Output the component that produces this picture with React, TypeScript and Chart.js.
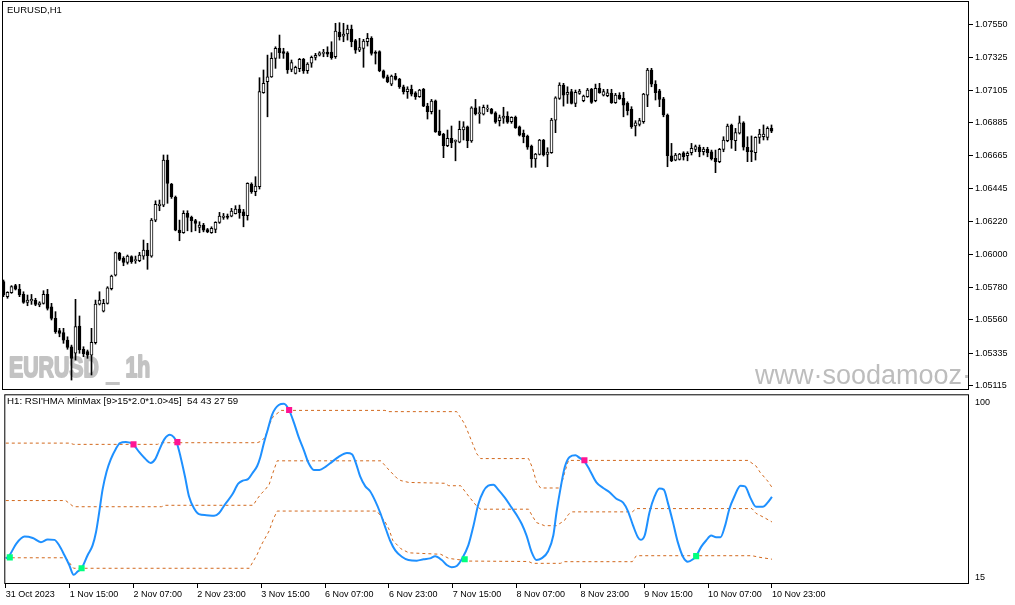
import { useEffect, useRef } from 'react'
import { Chart, registerables } from 'chart.js'

Chart.register(...registerables)

// EURUSD H1 candles, 31 Oct 2023 23:00 .. 10 Nov 2023 23:00 (one entry per bar)
const opens = [
  1.05817, 1.05716, 1.05743, 1.05790, 1.05767, 1.05731, 1.05678, 1.05687, 1.05691, 1.05660,
  1.05671, 1.05732, 1.05648, 1.05570, 1.05487, 1.05474, 1.05424, 1.05379, 1.05335, 1.05518,
  1.05362, 1.05346, 1.05323, 1.05406, 1.05666, 1.05619, 1.05671, 1.05769, 1.05861, 1.06008,
  1.05974, 1.05947, 1.05985, 1.05958, 1.05958, 1.05989, 1.06030, 1.05989, 1.06231, 1.06328,
  1.06332, 1.06635, 1.06474, 1.06384, 1.06164, 1.06146, 1.06276, 1.06249, 1.06227, 1.06182,
  1.06197, 1.06168, 1.06146, 1.06168, 1.06216, 1.06249, 1.06258, 1.06258, 1.06274, 1.06305,
  1.06287, 1.06260, 1.06474, 1.06422, 1.06456, 1.07088, 1.07162, 1.07195, 1.07319, 1.07387,
  1.07364, 1.07357, 1.07245, 1.07218, 1.07249, 1.07313, 1.07236, 1.07286, 1.07326, 1.07341,
  1.07353, 1.07362, 1.07362, 1.07330, 1.07496, 1.07469, 1.07483, 1.07516, 1.07438, 1.07375,
  1.07386, 1.07431, 1.07454, 1.07357, 1.07364, 1.07236, 1.07195, 1.07146, 1.07200, 1.07180,
  1.07128, 1.07095, 1.07111, 1.07088, 1.07061, 1.07111, 1.06998, 1.06960, 1.07034, 1.06830,
  1.06810, 1.06731, 1.06781, 1.06760, 1.06756, 1.06837, 1.06859, 1.06763, 1.06987, 1.06947,
  1.06943, 1.06978, 1.06978, 1.06953, 1.06900, 1.06916, 1.06931, 1.06893, 1.06922, 1.06859,
  1.06815, 1.06797, 1.06729, 1.06642, 1.06673, 1.06770, 1.06673, 1.06684, 1.06904, 1.07050,
  1.07140, 1.07077, 1.07095, 1.07016, 1.07084, 1.07034, 1.07061, 1.07113, 1.07034, 1.07117,
  1.07072, 1.07068, 1.07084, 1.07021, 1.07072, 1.07050, 1.07016, 1.06976, 1.06864, 1.06875,
  1.06893, 1.07072, 1.07241, 1.07146, 1.07101, 1.07047, 1.06938, 1.06664, 1.06635, 1.06640,
  1.06684, 1.06664, 1.06684, 1.06707, 1.06721, 1.06691, 1.06707, 1.06691, 1.06646, 1.06624,
  1.06707, 1.06765, 1.06871, 1.06765, 1.06815, 1.06886, 1.06721, 1.06698, 1.06684, 1.06788,
  1.06792, 1.06788, 1.06848,
]

const highs = [
  1.05828, 1.05749, 1.05790, 1.05799, 1.05799, 1.05749, 1.05727, 1.05731, 1.05705, 1.05682,
  1.05756, 1.05765, 1.05671, 1.05615, 1.05503, 1.05503, 1.05446, 1.05390, 1.05698, 1.05586,
  1.05379, 1.05357, 1.05503, 1.05693, 1.05749, 1.05698, 1.05783, 1.05861, 1.06016, 1.06014,
  1.05985, 1.05996, 1.05991, 1.05989, 1.06014, 1.06097, 1.06075, 1.06242, 1.06361, 1.06366,
  1.06669, 1.06669, 1.06478, 1.06393, 1.06231, 1.06294, 1.06294, 1.06258, 1.06236, 1.06220,
  1.06209, 1.06175, 1.06186, 1.06220, 1.06283, 1.06276, 1.06272, 1.06310, 1.06328, 1.06332,
  1.06303, 1.06482, 1.06482, 1.06523, 1.07189, 1.07241, 1.07341, 1.07357, 1.07397, 1.07476,
  1.07387, 1.07364, 1.07308, 1.07267, 1.07319, 1.07319, 1.07290, 1.07335, 1.07353, 1.07364,
  1.07380, 1.07397, 1.07431, 1.07555, 1.07559, 1.07555, 1.07543, 1.07543, 1.07447, 1.07454,
  1.07447, 1.07487, 1.07465, 1.07370, 1.07370, 1.07241, 1.07207, 1.07207, 1.07218, 1.07185,
  1.07139, 1.07128, 1.07139, 1.07095, 1.07111, 1.07117, 1.07017, 1.07043, 1.07039, 1.06971,
  1.06815, 1.06837, 1.06864, 1.06770, 1.06897, 1.06893, 1.06864, 1.06994, 1.07043, 1.06994,
  1.07005, 1.07005, 1.06983, 1.06960, 1.06938, 1.06990, 1.06960, 1.06926, 1.06931, 1.06864,
  1.06837, 1.06803, 1.06736, 1.06680, 1.06774, 1.06774, 1.06718, 1.06916, 1.07061, 1.07155,
  1.07151, 1.07128, 1.07111, 1.07106, 1.07111, 1.07072, 1.07117, 1.07117, 1.07146, 1.07151,
  1.07111, 1.07111, 1.07111, 1.07084, 1.07088, 1.07091, 1.07027, 1.06994, 1.06900, 1.06916,
  1.07084, 1.07252, 1.07252, 1.07169, 1.07111, 1.07057, 1.06945, 1.06747, 1.06680, 1.06680,
  1.06691, 1.06691, 1.06747, 1.06736, 1.06736, 1.06721, 1.06721, 1.06702, 1.06702, 1.06714,
  1.06792, 1.06877, 1.06877, 1.06848, 1.06931, 1.06893, 1.06792, 1.06797, 1.06792, 1.06842,
  1.06871, 1.06859, 1.06871,
]

const lows = [
  1.05716, 1.05705, 1.05738, 1.05761, 1.05716, 1.05671, 1.05655, 1.05664, 1.05655, 1.05648,
  1.05666, 1.05626, 1.05559, 1.05469, 1.05446, 1.05402, 1.05362, 1.05155, 1.05290, 1.05335,
  1.05312, 1.05301, 1.05189, 1.05397, 1.05660, 1.05613, 1.05666, 1.05761, 1.05855, 1.05958,
  1.05924, 1.05935, 1.05940, 1.05940, 1.05951, 1.05967, 1.05900, 1.05981, 1.06220, 1.06294,
  1.06321, 1.06344, 1.06377, 1.06159, 1.06092, 1.06142, 1.06159, 1.06152, 1.06159, 1.06146,
  1.06152, 1.06146, 1.06142, 1.06146, 1.06209, 1.06236, 1.06238, 1.06253, 1.06272, 1.06243,
  1.06186, 1.06231, 1.06411, 1.06395, 1.06440, 1.07084, 1.06926, 1.07191, 1.07252, 1.07319,
  1.07319, 1.07218, 1.07229, 1.07214, 1.07229, 1.07218, 1.07218, 1.07259, 1.07308, 1.07335,
  1.07330, 1.07330, 1.07313, 1.07319, 1.07442, 1.07431, 1.07442, 1.07397, 1.07353, 1.07364,
  1.07259, 1.07402, 1.07341, 1.07281, 1.07229, 1.07185, 1.07155, 1.07135, 1.07173, 1.07117,
  1.07079, 1.07050, 1.07066, 1.07043, 1.07057, 1.06994, 1.06911, 1.06945, 1.06821, 1.06799,
  1.06651, 1.06725, 1.06718, 1.06630, 1.06751, 1.06770, 1.06718, 1.06754, 1.06938, 1.06882,
  1.06938, 1.06960, 1.06945, 1.06882, 1.06864, 1.06882, 1.06882, 1.06882, 1.06848, 1.06797,
  1.06751, 1.06707, 1.06586, 1.06586, 1.06669, 1.06662, 1.06590, 1.06680, 1.06819, 1.07043,
  1.06998, 1.07016, 1.07012, 1.06994, 1.07077, 1.07027, 1.07057, 1.07016, 1.07027, 1.07084,
  1.07066, 1.07061, 1.07016, 1.07016, 1.07043, 1.06926, 1.06938, 1.06848, 1.06797, 1.06864,
  1.06882, 1.06994, 1.07128, 1.07039, 1.06994, 1.06926, 1.06590, 1.06624, 1.06630, 1.06635,
  1.06635, 1.06630, 1.06669, 1.06691, 1.06657, 1.06669, 1.06657, 1.06635, 1.06550, 1.06617,
  1.06691, 1.06758, 1.06714, 1.06698, 1.06810, 1.06702, 1.06624, 1.06624, 1.06635, 1.06747,
  1.06770, 1.06770, 1.06819,
]

const closes = [
  1.05727, 1.05745, 1.05783, 1.05767, 1.05727, 1.05678, 1.05693, 1.05698, 1.05664, 1.05675,
  1.05732, 1.05637, 1.05570, 1.05480, 1.05469, 1.05424, 1.05375, 1.05301, 1.05514, 1.05357,
  1.05330, 1.05323, 1.05409, 1.05666, 1.05693, 1.05671, 1.05776, 1.05855, 1.06012, 1.05967,
  1.05947, 1.05989, 1.05951, 1.05962, 1.05996, 1.06030, 1.05991, 1.06231, 1.06337, 1.06339,
  1.06635, 1.06478, 1.06388, 1.06164, 1.06146, 1.06276, 1.06249, 1.06227, 1.06209, 1.06197,
  1.06164, 1.06152, 1.06175, 1.06216, 1.06258, 1.06258, 1.06249, 1.06292, 1.06305, 1.06281,
  1.06260, 1.06478, 1.06422, 1.06460, 1.07095, 1.07151, 1.07195, 1.07319, 1.07387, 1.07357,
  1.07353, 1.07241, 1.07290, 1.07259, 1.07313, 1.07234, 1.07281, 1.07326, 1.07339, 1.07357,
  1.07357, 1.07348, 1.07323, 1.07503, 1.07465, 1.07483, 1.07516, 1.07431, 1.07375, 1.07391,
  1.07436, 1.07454, 1.07353, 1.07353, 1.07236, 1.07191, 1.07162, 1.07200, 1.07178, 1.07128,
  1.07095, 1.07113, 1.07079, 1.07061, 1.07106, 1.06998, 1.06960, 1.07032, 1.06825, 1.06803,
  1.06731, 1.06781, 1.06751, 1.06769, 1.06842, 1.06859, 1.06765, 1.06987, 1.06945, 1.06953,
  1.06990, 1.06983, 1.06949, 1.06889, 1.06920, 1.06931, 1.06889, 1.06922, 1.06852, 1.06803,
  1.06792, 1.06721, 1.06642, 1.06675, 1.06770, 1.06669, 1.06689, 1.06904, 1.07054, 1.07140,
  1.07072, 1.07091, 1.07016, 1.07091, 1.07099, 1.07066, 1.07106, 1.07023, 1.07117, 1.07088,
  1.07095, 1.07088, 1.07021, 1.07072, 1.07047, 1.07005, 1.06967, 1.06859, 1.06886, 1.06900,
  1.07079, 1.07241, 1.07146, 1.07088, 1.07043, 1.06938, 1.06664, 1.06630, 1.06669, 1.06675,
  1.06657, 1.06680, 1.06714, 1.06725, 1.06691, 1.06709, 1.06684, 1.06642, 1.06624, 1.06707,
  1.06770, 1.06864, 1.06770, 1.06819, 1.06886, 1.06721, 1.06691, 1.06691, 1.06788, 1.06810,
  1.06810, 1.06848, 1.06830,
]

const priceTicks = [1.05115, 1.05335, 1.0556, 1.0578, 1.06, 1.0622, 1.06445, 1.06665, 1.06885, 1.07105, 1.07325, 1.0755]
const panelTicks = [15, 100]

// one label every 16 bars
const timeLabels = [
  '31 Oct 2023', '1 Nov 15:00', '2 Nov 07:00', '2 Nov 23:00', '3 Nov 15:00', '6 Nov 07:00', '6 Nov 23:00',
  '7 Nov 15:00', '8 Nov 07:00', '8 Nov 23:00', '9 Nov 15:00', '10 Nov 07:00', '10 Nov 23:00',
]

// RSI'HMA line, read at bar positions
const rsiBars = [
  0, 1, 2.6, 4.7, 6.75, 8.8, 10.5, 12.2, 13.4, 14.7, 15.9, 17, 18, 19, 20.5, 21.75, 22.6, 23.4, 24.25, 25.25,
  26.3, 27.6, 28.6, 30.1, 32, 33.4, 35.1, 36.3, 37.4, 38.6, 39.8, 41.1, 42.1, 42.8, 43.8, 44.9, 45.9, 47.2, 48.4, 50.25,
  52.2, 53.4, 54.9, 56.75, 58.25, 59.4, 60.7, 61.9, 63, 63.8, 64.7, 65.7, 66.75, 68.4, 69.7, 70.9, 72.2, 73.4, 74.7, 75.9,
  77.2, 78.6, 80.1, 81.75, 83.4, 85.5, 86.75, 87.75, 88.8, 90.1, 91.3, 92.6, 93.8, 95.1, 96.3, 97.6, 99.25, 100.9, 103, 104.7,
  106.3, 107.6, 109.25, 110.5, 111.75, 113, 114.25, 115.9, 117.2, 118.4, 119.7, 120.9, 122.2, 123.4, 125.1, 126.75, 128.4, 129.3, 130.5, 131.75,
  133, 134.25, 135.9, 137.2, 138, 139.1, 140.1, 141.3, 142.75, 143.8, 144.9, 146.3, 148, 149.7, 151.3, 153, 154.7, 155.9, 157.2, 158.4,
  159.1, 160.1, 161.3, 162.6, 163.8, 164.9, 165.9, 167.2, 168.4, 169.7, 170.9, 172.2, 173, 174.25, 175.5, 176.75, 178, 179.1, 180.25, 181.3,
  182.6, 184.1, 185.25, 186.6, 188, 189.7, 190.9, 192,
]
const rsiValues = [
  24, 25.8, 31.2, 34.7, 34, 32, 33.3, 33.1, 30.4, 25.6, 20.9, 16.1, 17.7, 19.3, 25.6, 30.4, 36.8, 46.4, 57.5, 66.2,
  72.2, 77.4, 80.1, 80.6, 79.3, 75.8, 72.2, 70.5, 72.2, 77.4, 82.2, 84.2, 83, 80.6, 73.4, 63.9, 54.3, 48.3, 45.6, 45.1,
  44.8, 46, 50.3, 55.1, 60.4, 61.9, 62.6, 65.8, 69, 73.4, 80.3, 87, 94, 98.6, 99.2, 96.5, 90.1, 83, 76.6, 70.3,
  67.1, 67.1, 68.6, 71, 73.4, 75.3, 74.7, 70.3, 63.9, 59.1, 56.7, 51.9, 46.4, 39.2, 32.8, 28, 24.9, 23.3, 23, 23.7,
  24.1, 25.2, 23.3, 20.9, 19.8, 20.4, 23.7, 30.4, 40, 50.3, 56.7, 59.4, 59.9, 57.5, 53.5, 48.8, 44, 40.8, 35.2, 27.3,
  23.3, 24.1, 27.6, 35.2, 46.4, 59.1, 68.6, 73.4, 74.2, 72.9, 71.5, 67.1, 61, 58.3, 56.2, 53.1, 51.2, 47.1, 40, 34.4,
  33.1, 35.2, 46.4, 54.3, 58, 57.5, 51.2, 41.6, 32, 24.9, 22.5, 23.7, 25.2, 29.7, 32.8, 35.2, 34.4, 34.4, 40, 48,
  54.3, 59.4, 59.1, 53.5, 49.2, 49.2, 51.2, 54,
]

// MinMax channel (upper / middle / lower)
const upperBars = [0, 16, 17, 38, 39, 63, 64, 65, 66, 67, 69, 95, 96, 113, 115, 117, 118, 119, 131, 132, 133, 134, 139, 140, 141, 186, 188, 189, 191, 192]
const upperValues = [80.1, 80.1, 79.5, 79.5, 80.3, 80.3, 81, 83, 89, 93, 96, 96, 95.4, 95.4, 89.4, 79.8, 75, 72.6, 72.6, 68, 61, 58.3, 58.3, 65.5, 71.7, 71.7, 69, 66, 61.5, 58.6]
const midBars = [0, 15, 17, 39, 40, 62, 63, 64, 65, 66, 67, 68, 94, 96, 98, 99, 101, 110, 111, 114, 116, 118, 119, 131, 132, 133, 135, 138, 140, 141, 142, 157, 158, 187, 188, 190, 192]
const midValues = [52.2, 52.2, 49.2, 49.2, 49.9, 49.9, 53, 55.5, 57.5, 60, 66, 71.5, 71.5, 67.1, 63.1, 61.9, 61, 60.6, 59.4, 59.4, 54.3, 49.5, 48, 48, 44.5, 41.5, 40, 40, 42.5, 45.5, 46.7, 46.7, 48.3, 48.3, 46, 44, 41.8]
const lowerBars = [0, 15, 17, 61, 63, 64, 66, 67, 68, 93, 95, 96, 97, 99, 101, 109, 111, 113, 116, 131, 132, 139, 140, 157, 158, 187, 189, 192]
const lowerValues = [24.4, 24.4, 19.3, 19.3, 26, 30.5, 37.5, 43, 47.1, 47.1, 42, 38.4, 32.8, 28.8, 26.8, 26.1, 24.1, 23.6, 22.8, 22.6, 21.7, 21.7, 22.5, 22.5, 25.4, 25.4, 24.6, 23.7]

// signal squares
const sellBars = [32, 43, 71, 145]
const sellValues = [79.5, 80.6, 96.2, 71.8]
const buyBars = [1, 19, 115, 173]
const buyValues = [24.6, 19.3, 23.7, 25.2]

const FONT = 'Liberation Sans'
const X_MIN = -0.375
const X_MAX = 241.375
const AXIS_W = 46

const pts = (xs: number[], ys: number[]) => xs.map((x, i) => ({ x, y: ys[i] }))

// no extra room for first / last labels, the frame is fixed
const noPad = (s: any) => { s.paddingTop = 0; s.paddingBottom = 0; s.paddingLeft = 0; s.paddingRight = 0 }

const framePlugin = {
  id: 'frame',
  afterDraw(chart: any) {
    const { ctx, chartArea: { left, top, right, bottom } } = chart
    ctx.save()
    ctx.strokeStyle = '#000'
    ctx.lineWidth = 1
    ctx.strokeRect(left + 0.5, top + 0.5, right - left - 1, bottom - top - 1)
    ctx.restore()
  },
}

const priceTextPlugin = {
  id: 'priceText',
  beforeDatasetsDraw(chart: any) {
    const { ctx, chartArea: a } = chart
    ctx.save()
    ctx.beginPath()
    ctx.rect(a.left, a.top, a.right - a.left, a.bottom - a.top)
    ctx.clip()
    ctx.textBaseline = 'alphabetic'
    // heavy condensed symbol watermark
    ctx.fillStyle = '#C3C3C3'
    ctx.strokeStyle = '#C3C3C3'
    ctx.lineWidth = 2
    ctx.lineJoin = 'round'
    ctx.font = `bold 30px "${FONT}"`
    ctx.translate(9, 377)
    ctx.scale(0.71, 1)
    ctx.strokeText('EURUSD', 0, 0)
    ctx.fillText('EURUSD', 0, 0)
    ctx.strokeText('1h', 164, 0)
    ctx.fillText('1h', 164, 0)
    ctx.fillRect(136, 5, 20, 3)
    ctx.setTransform(1, 0, 0, 1, 0, 0)
    ctx.fillStyle = '#BDBDBD'
    ctx.font = `27px "${FONT}"`
    ctx.fillText('www·soodamooz·com', 755, 384)
    ctx.restore()
  },
  afterDraw(chart: any) {
    const { ctx } = chart
    ctx.save()
    ctx.fillStyle = '#000'
    ctx.font = `9.5px "${FONT}"`
    ctx.textBaseline = 'middle'
    ctx.fillText('EURUSD,H1', 7, 10)
    ctx.restore()
  },
}

const panelTextPlugin = {
  id: 'panelText',
  afterDraw(chart: any) {
    const { ctx } = chart
    ctx.save()
    ctx.fillStyle = '#000'
    ctx.font = `9.7px "${FONT}"`
    ctx.textBaseline = 'middle'
    ctx.fillText("H1: RSI'HMA MinMax [9>15*2.0*1.0>45]  54 43 27 59", 7, 11)
    ctx.restore()
  },
}

export default function App() {
  const topRef = useRef<HTMLCanvasElement>(null)
  const botRef = useRef<HTMLCanvasElement>(null)

  useEffect(() => {
    if (!topRef.current || !botRef.current) return
    const font = { family: FONT, size: 9 }
    const up = closes.map((c, i) => c >= opens[i])

    const top = new Chart(topRef.current, {
      type: 'bar',
      data: {
        datasets: [
          {
            label: 'body',
            data: opens.map((o, i) => ({ x: i, y: [o, closes[i]] })) as any,
            backgroundColor: up.map(u => (u ? '#fff' : '#000')),
            borderColor: '#000',
            borderWidth: 1,
            borderSkipped: false,
            barThickness: 3,
            minBarLength: 1,
            grouped: false,
          },
          {
            label: 'wick',
            data: highs.map((h, i) => ({ x: i, y: [lows[i], h] })) as any,
            backgroundColor: '#000',
            borderWidth: 0,
            barThickness: 1,
            grouped: false,
          },
        ],
      },
      options: {
        responsive: false,
        animation: false,
        events: [],
        layout: { padding: { left: 2, top: 1, right: 0, bottom: 0 } },
        plugins: { legend: { display: false }, tooltip: { enabled: false } },
        scales: {
          x: { type: 'linear', min: X_MIN, max: X_MAX, offset: false, display: false, grid: { offset: false } },
          y: {
            position: 'right',
            min: 1.05088,
            max: 1.07705,
            afterBuildTicks: (s: any) => { s.ticks = priceTicks.map(v => ({ value: v })) },
            afterFit: (s: any) => { s.width = AXIS_W; noPad(s) },
            grid: { drawOnChartArea: false, drawTicks: true, tickLength: 4, color: '#000' },
            border: { display: false },
            ticks: { color: '#000', font, padding: 2, autoSkip: false, callback: (v: any) => Number(v).toFixed(5) },
          },
        },
      },
      plugins: [priceTextPlugin, framePlugin],
    })

    const bot = new Chart(botRef.current, {
      type: 'line',
      data: {
        datasets: [
          { label: 'sell', data: pts(sellBars, sellValues), showLine: false, pointStyle: 'rect', pointRadius: 4.3, pointBackgroundColor: '#FF1493', pointBorderWidth: 0 },
          { label: 'buy', data: pts(buyBars, buyValues), showLine: false, pointStyle: 'rect', pointRadius: 4.3, pointBackgroundColor: '#00FF7F', pointBorderWidth: 0 },
          { label: 'rsi', data: pts(rsiBars, rsiValues), borderColor: '#1E90FF', borderWidth: 2, pointRadius: 0, cubicInterpolationMode: 'monotone' },
          { label: 'upper', data: pts(upperBars, upperValues), borderColor: '#D2691E', borderWidth: 1, borderDash: [3, 3], pointRadius: 0, tension: 0 },
          { label: 'middle', data: pts(midBars, midValues), borderColor: '#D2691E', borderWidth: 1, borderDash: [3, 3], pointRadius: 0, tension: 0 },
          { label: 'lower', data: pts(lowerBars, lowerValues), borderColor: '#D2691E', borderWidth: 1, borderDash: [3, 3], pointRadius: 0, tension: 0 },
        ] as any,
      },
      options: {
        responsive: false,
        animation: false,
        events: [],
        layout: { padding: { left: 2, top: 1, right: 0, bottom: 0 } },
        plugins: { legend: { display: false }, tooltip: { enabled: false } },
        scales: {
          x: {
            type: 'linear',
            min: X_MIN,
            max: X_MAX,
            offset: false,
            afterBuildTicks: (s: any) => { s.ticks = timeLabels.map((_, i) => ({ value: i * 16 })) },
            afterFit: (s: any) => { s.height = 21; noPad(s) },
            grid: { offset: false, drawOnChartArea: false, drawTicks: true, tickLength: 4, color: '#000' },
            border: { display: false },
            ticks: { align: 'start', autoSkip: false, maxRotation: 0, padding: 1, color: '#000', font, callback: (_v: any, i: number) => timeLabels[i] },
          },
          y: {
            position: 'right',
            min: 11.66,
            max: 103.82,
            afterBuildTicks: (s: any) => { s.ticks = panelTicks.map(v => ({ value: v })) },
            afterFit: (s: any) => { s.width = AXIS_W; noPad(s) },
            grid: { display: false, drawTicks: false },
            border: { display: false },
            ticks: { color: '#000', font, padding: 6, autoSkip: false },
          },
        },
      },
      plugins: [panelTextPlugin, framePlugin],
    })

    return () => { top.destroy(); bot.destroy() }
  }, [])

  return (
    <div style={{ position: 'absolute', left: 0, top: 0, width: 1015, height: 605, background: '#fff' }}>
      <canvas ref={topRef} width={1015} height={390} style={{ display: 'block' }} />
      <canvas ref={botRef} width={1015} height={215} style={{ display: 'block' }} />
    </div>
  )
}
